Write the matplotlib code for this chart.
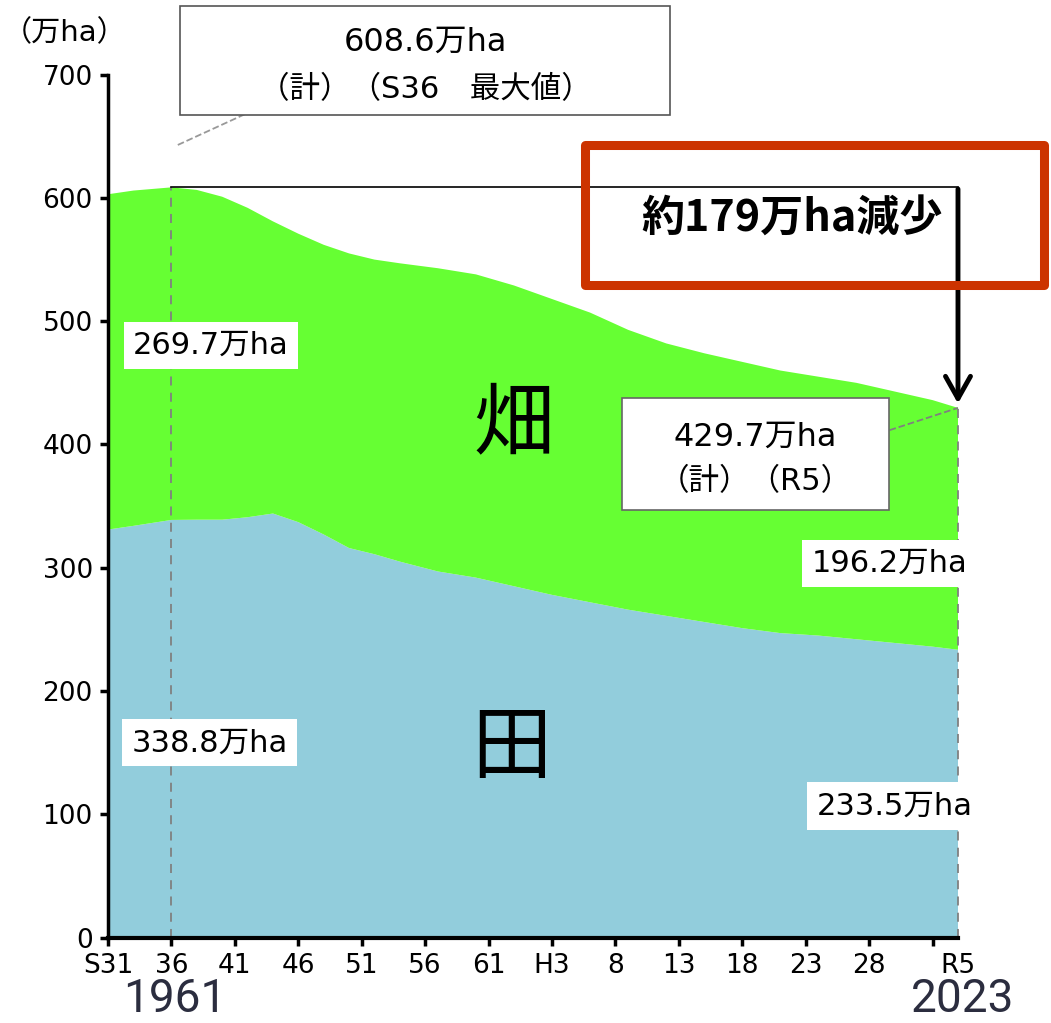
import numpy as np
import matplotlib.pyplot as plt
from matplotlib.patches import Rectangle

plt.rcParams['font.family'] = ['DejaVu Sans', 'Noto Sans CJK JP']

# years (西暦) and areas in 万ha
years = [1956, 1958, 1961, 1963, 1965, 1967, 1969, 1971, 1973, 1975, 1977, 1979,
         1982, 1985, 1988, 1991, 1994, 1997, 2000, 2003, 2006, 2009, 2012, 2015,
         2018, 2021, 2023]
total = [603, 606, 608.6, 606.5, 601, 592, 581, 571, 562, 555, 550, 547,
         543, 538, 529, 518, 507, 493, 482, 474, 467, 460, 455, 450,
         443, 436, 429.7]
paddy = [331, 334, 338.8, 339, 339, 341, 344, 337, 327, 316, 311, 305,
         297, 292, 285, 278, 272, 266, 261, 256, 251, 247, 245, 242,
         239, 236, 233.5]
upland = [t - p for t, p in zip(total, paddy)]

tick_years = [1956, 1961, 1966, 1971, 1976, 1981, 1986, 1991, 1996, 2001, 2006, 2011, 2016, 2021]
tick_labels = ['S31', '36', '41', '46', '51', '56', '61', 'H3', '8', '13', '18', '23', '28', '']

fig = plt.figure(figsize=(10.51, 10.23), dpi=100)
ax = fig.add_axes([0.1028, 0.0835, 0.8087, 0.8435])

ax.stackplot(years, paddy, upland, colors=['#92CDDC', '#66FF33'], linewidth=0)
ax.set_xlim(1956, 2023)
ax.set_ylim(0, 700)

for s in ['top', 'right']:
    ax.spines[s].set_visible(False)
ax.spines['left'].set_linewidth(2.5)
ax.spines['bottom'].set_linewidth(3)
ax.set_xticks(tick_years, tick_labels)
ax.set_xticks([2023], ['R5'], minor=True)
ax.set_yticks(range(0, 701, 100))
ax.tick_params(axis='both', which='major', length=6, width=2.5, labelsize=19, pad=5)
ax.tick_params(axis='x', which='minor', length=0, labelsize=19, pad=11)

# dashed guide lines
ax.plot([1961, 1961], [0, 608.6], ls='--', color='#808080', lw=1.3, dashes=(5, 4))
ax.plot([2023, 2023], [0, 429.7], ls='--', color='#808080', lw=1.3, dashes=(5, 4), clip_on=False)
ax.plot([1961.5, 1966.8], [643, 668], ls='--', color='#999999', lw=1.3, clip_on=False)
ax.plot([2017.6, 2023], [411.6, 429.7], ls='--', color='#808080', lw=1.3, clip_on=False)

# 608.6 reference line and arrow
ax.plot([1961, 2023], [608.6, 608.6], color='black', lw=1.2, clip_on=False)
ax.annotate('', xy=(2023, 431), xytext=(2023, 609.5),
            arrowprops=dict(arrowstyle='->,head_length=1.6,head_width=0.9', lw=3.5, color='black'),
            annotation_clip=False)

# top box
ax.add_patch(Rectangle((1961.7, 667), 38.6, 89, facecolor='white', edgecolor='#555555',
                       lw=1.2, clip_on=False, zorder=5))
ax.text(1981.0, 726, '608.6万ha', ha='center', va='center', fontsize=23, zorder=6)
ax.text(1981.0, 688, '（計）（S36　最大値）', ha='center', va='center', fontsize=22, zorder=6)

# R5 box
ax.add_patch(Rectangle((1996.5, 346.7), 21.1, 90.9, facecolor='white', edgecolor='#666666',
                       lw=1.2, zorder=5))
ax.text(2007.0, 406, '429.7万ha', ha='center', va='center', fontsize=23, zorder=6)
ax.text(2007.0, 370, '（計）（R5）', ha='center', va='center', fontsize=22, zorder=6)

# red box
ax.add_patch(Rectangle((1993.6, 529.2), 36.2, 113.5, facecolor='none', edgecolor='#CC3300',
                       lw=6.5, joinstyle='round', clip_on=False, zorder=7))
ax.text(2009.9, 583, '約179万ha減少', ha='center', va='center', fontsize=31,
        fontweight='bold', family=['Noto Sans CJK JP'], zorder=8)

# value labels
box = dict(boxstyle='square,pad=0.3', facecolor='white', edgecolor='none')
ax.text(1964.1, 480.5, '269.7万ha', ha='center', va='center', fontsize=22, bbox=box, zorder=6)
ax.text(1964.0, 158, '338.8万ha', ha='center', va='center', fontsize=22, bbox=box, zorder=6)
ax.text(2017.6, 303.7, '196.2万ha', ha='center', va='center', fontsize=22, bbox=box, zorder=6)
ax.text(2018.0, 106.7, '233.5万ha', ha='center', va='center', fontsize=22, bbox=box,
        zorder=6, clip_on=False)

# category labels
ax.text(1988.0, 415, '畑', ha='center', va='center', fontsize=58)
ax.text(1987.8, 152, '田', ha='center', va='center', fontsize=58)

ax.text(1952.6, 734, '（万ha）', ha='center', va='center', fontsize=21)

fig.text(175 / 1051, 0.002, '1961', ha='center', va='bottom', fontsize=33,
         family='Roboto', color='#2B2D3F')
fig.text(963 / 1051, 0.002, '2023', ha='center', va='bottom', fontsize=33,
         family='Roboto', color='#2B2D3F')

fig.savefig('out.png', dpi=100)
